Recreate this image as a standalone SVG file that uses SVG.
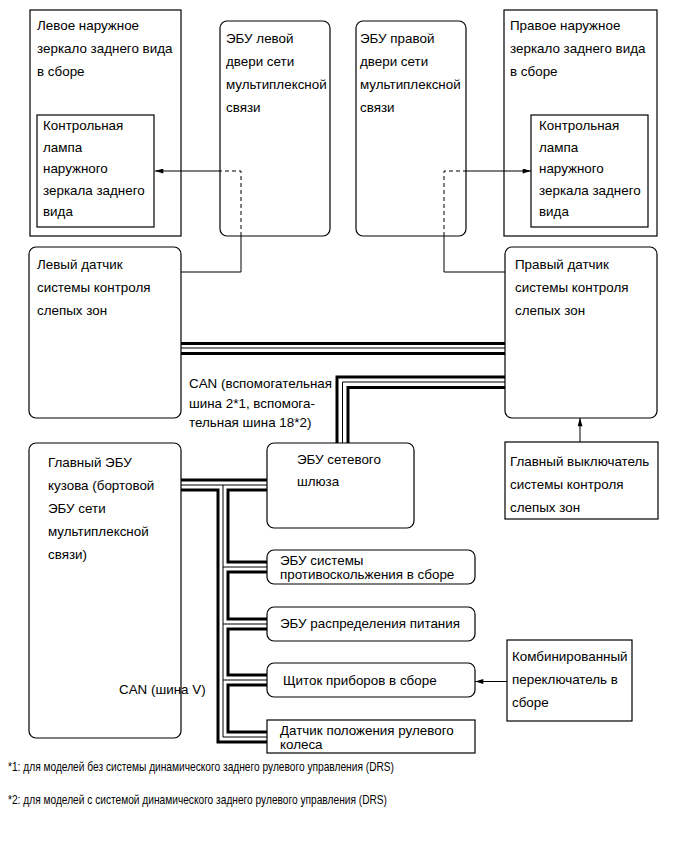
<svg xmlns="http://www.w3.org/2000/svg" width="690" height="854" viewBox="0 0 690 854">
<defs>
<style>
text{font-family:"Liberation Sans",Arial,sans-serif;font-size:13.4px;fill:#000}
.box{fill:#fff;stroke:#000;stroke-width:1.2}
.ln{fill:none;stroke:#000;stroke-width:1}
.dash{fill:none;stroke:#000;stroke-width:1;stroke-dasharray:4,3}
.thk{fill:none;stroke:#000;stroke-width:3}
.thn{fill:none;stroke:#000;stroke-width:1}
.fn{font-size:13px}
</style>
<marker id="ah" markerUnits="userSpaceOnUse" viewBox="0 0 10 6" refX="10" refY="3" markerWidth="10" markerHeight="5" orient="auto">
<path d="M0,0 L10,3 L0,6 z" fill="#000"/>
</marker>
</defs>
<rect width="690" height="854" fill="#fff"/>

<g id="left-mirror">
<rect class="box" x="30" y="10" width="151" height="226"/>
<text x="37" y="29.5">Левое наружное</text>
<text x="37" y="52.5">зеркало заднего вида</text>
<text x="37" y="75.5">в сборе</text>
</g>
<g id="left-lamp">
<rect class="box" x="37" y="115" width="117" height="112"/>
<text x="43" y="130">Контрольная</text>
<text x="43" y="151.5">лампа</text>
<text x="43" y="173">наружного</text>
<text x="43" y="194.5">зеркала заднего</text>
<text x="43" y="216">вида</text>
</g>
<g id="left-door-ecu">
<rect class="box" x="220" y="21" width="110" height="215" rx="7"/>
<text x="226" y="42.5">ЭБУ левой</text>
<text x="226" y="65.5">двери сети</text>
<text x="226" y="88.5">мультиплексной</text>
<text x="226" y="111.5">связи</text>
</g>
<g id="right-door-ecu">
<rect class="box" x="356" y="21" width="110" height="215" rx="7"/>
<text x="360" y="42.5">ЭБУ правой</text>
<text x="360" y="65.5">двери сети</text>
<text x="360" y="88.5">мультиплексной</text>
<text x="360" y="111.5">связи</text>
</g>
<g id="right-mirror">
<rect class="box" x="504" y="10" width="153" height="226"/>
<text x="510" y="29.5">Правое наружное</text>
<text x="510" y="52.5">зеркало заднего вида</text>
<text x="510" y="75.5">в сборе</text>
</g>
<g id="right-lamp">
<rect class="box" x="531" y="115" width="117" height="112"/>
<text x="539" y="130">Контрольная</text>
<text x="539" y="151.5">лампа</text>
<text x="539" y="173">наружного</text>
<text x="539" y="194.5">зеркала заднего</text>
<text x="539" y="216">вида</text>
</g>
<g id="left-bsm-sensor">
<rect class="box" x="29" y="247" width="152" height="171" rx="7"/>
<text x="37" y="268.5">Левый датчик</text>
<text x="37" y="291.5">системы контроля</text>
<text x="37" y="314.5">слепых зон</text>
</g>
<g id="right-bsm-sensor">
<rect class="box" x="505" y="247" width="152" height="171" rx="7"/>
<text x="515" y="268.5">Правый датчик</text>
<text x="515" y="291.5">системы контроля</text>
<text x="515" y="314.5">слепых зон</text>
</g>
<g id="bsm-main-switch">
<rect class="box" x="505" y="442" width="153" height="77"/>
<text x="510" y="466">Главный выключатель</text>
<text x="510" y="489">системы контроля</text>
<text x="510" y="512">слепых зон</text>
</g>
<g id="main-body-ecu">
<rect class="box" x="29" y="443" width="152" height="295" rx="7"/>
<text x="48" y="467">Главный ЭБУ</text>
<text x="48" y="490">кузова (бортовой</text>
<text x="48" y="513">ЭБУ сети</text>
<text x="48" y="536">мультиплексной</text>
<text x="48" y="559">связи)</text>
</g>
<g id="gateway-ecu">
<rect class="box" x="267" y="443" width="147" height="85" rx="7"/>
<text x="297" y="463.5">ЭБУ сетевого</text>
<text x="297" y="485.5">шлюза</text>
</g>
<g id="skid-control-ecu">
<rect class="box" x="267" y="550" width="208" height="34" rx="7"/>
<text x="280" y="565">ЭБУ системы</text>
<text x="280" y="579">противоскольжения в сборе</text>
</g>
<g id="power-distribution-ecu">
<rect class="box" x="267" y="607" width="208" height="34" rx="7"/>
<text x="280" y="627.5">ЭБУ распределения питания</text>
</g>
<g id="combination-meter">
<rect class="box" x="267" y="663" width="208" height="34" rx="7"/>
<text x="283" y="685">Щиток приборов в сборе</text>
</g>
<g id="steering-angle-sensor">
<rect class="box" x="267" y="720" width="208" height="33"/>
<text x="280" y="734.5">Датчик положения рулевого</text>
<text x="280" y="748.5">колеса</text>
</g>
<g id="combination-switch">
<rect class="box" x="507" y="640" width="125" height="81"/>
<text x="512" y="661">Комбинированный</text>
<text x="512" y="684">переключатель в</text>
<text x="512" y="707">сборе</text>
</g>

<g id="connectors">
<path class="ln" d="M181,272 H241 V236"/>
<path class="dash" d="M241,236 V171 H220"/>
<path class="ln" d="M220,171 H155" marker-end="url(#ah)"/>
<path class="ln" d="M505,272 H444 V236"/>
<path class="dash" d="M444,236 V171 H466"/>
<path class="ln" d="M466,171 H531" marker-end="url(#ah)"/>
<path class="ln" d="M580,442 V418" marker-end="url(#ah)"/>
<path class="ln" d="M507,681.5 H475" marker-end="url(#ah)"/>
<g id="can-sub-bus">
<path class="thk" d="M181,343.5 H505"/>
<path class="thn" d="M181,348 H505"/>
<path class="thk" d="M181,353.5 H505"/>
<path class="thk" d="M505,377 H337 V443"/>
<path class="thn" d="M505,382 H342.5 V443"/>
<path class="thk" d="M505,387.5 H348 V443"/>
</g>
<g id="can-v-bus">
<path class="thk" d="M181,480 H267"/>
<path class="thn" d="M181,485 H267 M223,485 V737 H267 M223,567 H267 M223,624 H267 M223,680 H267"/>
<path class="thk" d="M181,490 H218 V742 H267"/>
<path class="thk" d="M267,490 H228 V562 H267 M267,572 H228 V619 H267 M267,629 H228 V675 H267 M267,685 H228 V732 H267"/>
</g>
</g>

<g id="labels">
<text x="189" y="388">CAN (вспомогательная</text>
<text x="189" y="408">шина 2*1, вспомога-</text>
<text x="189" y="427">тельная шина 18*2)</text>
<text x="119" y="694">CAN (шина V)</text>
<text class="fn" x="8" y="771" textLength="386" lengthAdjust="spacingAndGlyphs">*1: для моделей без системы динамического заднего рулевого управления (DRS)</text>
<text class="fn" x="8" y="804" textLength="379" lengthAdjust="spacingAndGlyphs">*2: для моделей с системой динамического заднего рулевого управления (DRS)</text>
</g>
</svg>
